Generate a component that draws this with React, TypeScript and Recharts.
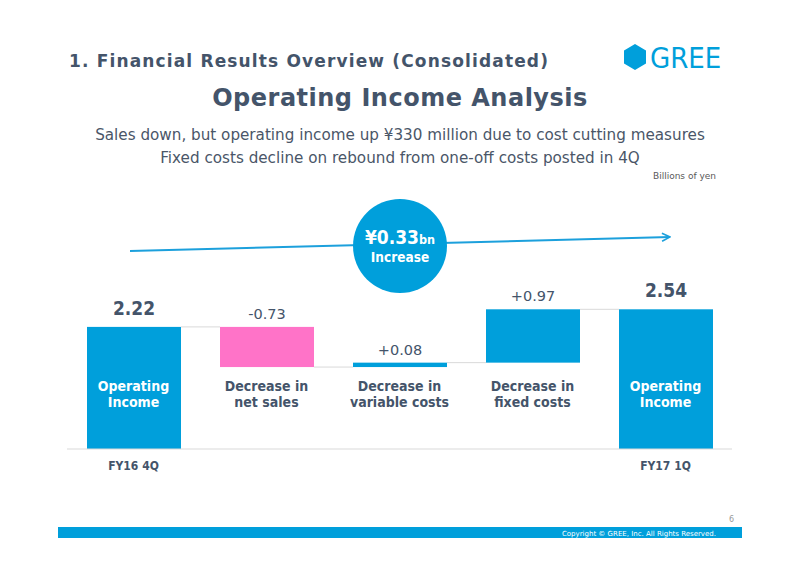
import React from "react";
import { BarChart, Bar, XAxis, YAxis, Cell, LabelList } from "recharts";

const categoryLines = [
  ["Operating", "Income"],
  ["Decrease in", "net sales"],
  ["Decrease in", "variable costs"],
  ["Decrease in", "fixed costs"],
  ["Operating", "Income"],
];
const periods = ["FY16 4Q", "", "", "", "FY17 1Q"];
const changes = [2.22, -0.73, 0.08, 0.97, 2.54];
const kinds = ["total", "delta", "delta", "delta", "total"];
const valueLabels = ["2.22", "-0.73", "+0.08", "+0.97", "2.54"];

const BLUE = "#009fdb";
const PINK = "#ff73c8";
const TEXT = "#44546a";
const FONT = "'DejaVu Sans', Verdana, sans-serif";
const FONT_C = "'DejaVu Sans Condensed', 'DejaVu Sans', sans-serif";

const W = 800;
const H = 565;
const AXIS_H = 30;
const M = { top: 284, right: 68, bottom: 116 - AXIS_H, left: 67 };
const BAR = 94;
const GAP = (W - M.left - M.right) / categoryLines.length - BAR;

let running = 0;
const data = changes.map((v, i) => {
  let base = 0;
  let size = v;
  if (kinds[i] === "total") {
    running = v;
  } else {
    base = Math.min(running, running + v);
    size = Math.abs(v);
    running += v;
  }
  return {
    name: String(i),
    base,
    size,
    up: v >= 0,
    total: kinds[i] === "total",
    label: valueLabels[i],
    period: periods[i],
    last: i === changes.length - 1,
  };
});

const WaterfallBar = (props: any) => {
  const { x, y, width, height, payload, fill } = props;
  const level = payload.up ? y : y + height;
  return (
    <g>
      <rect x={x} y={y} width={width} height={height} fill={fill} />
      {!payload.last && (
        <line
          x1={x + width}
          x2={x + width + GAP}
          y1={level}
          y2={level}
          stroke="#d9d9d9"
          strokeWidth={1}
        />
      )}
    </g>
  );
};

const renderLabel = (props: any) => {
  const { x, y, width, index } = props;
  const d = data[index];
  return (
    <text
      x={x + width / 2}
      y={d.total ? y - 12 : y - 8}
      textAnchor="middle"
      fill={TEXT}
      fontFamily={d.total ? FONT_C : FONT}
      fontWeight={d.total ? "bold" : "normal"}
      fontSize={d.total ? 19 : 14.5}
    >
      {d.label}
    </text>
  );
};

const CategoryTick = (props: any) => {
  const { x, payload } = props;
  const i = Number(payload.value);
  const d = data[i];
  const color = d.total ? "#ffffff" : TEXT;
  return (
    <g>
      {categoryLines[i].map((t, k) => (
        <text
          key={k}
          x={x}
          y={391 + k * 16}
          textAnchor="middle"
          fill={color}
          fontFamily={FONT_C}
          fontWeight="bold"
          fontSize={14}
        >
          {t}
        </text>
      ))}
      {d.period && (
        <text
          x={x}
          y={470}
          textAnchor="middle"
          fill={TEXT}
          fontFamily={FONT_C}
          fontWeight="bold"
          fontSize={12}
        >
          {d.period}
        </text>
      )}
    </g>
  );
};

export default function App() {
  return (
    <div
      style={{
        position: "absolute",
        left: 0,
        top: 0,
        width: W,
        height: H,
        background: "#fff",
        fontFamily: FONT,
        overflow: "hidden",
      }}
    >
      <div
        style={{
          position: "absolute",
          left: 69,
          top: 51,
          fontSize: 17,
          fontWeight: "bold",
          color: TEXT,
          letterSpacing: 1.15,
          whiteSpace: "nowrap",
        }}
      >
        1. Financial Results Overview (Consolidated)
      </div>
      <div
        style={{
          position: "absolute",
          left: 0,
          width: W,
          top: 84,
          textAlign: "center",
          fontSize: 24,
          fontWeight: "bold",
          color: TEXT,
          letterSpacing: 0.5,
        }}
      >
        Operating Income Analysis
      </div>
      <div
        style={{
          position: "absolute",
          left: 0,
          width: W,
          top: 124,
          textAlign: "center",
          fontSize: 15.2,
          lineHeight: "23px",
          color: "#4a5668",
        }}
      >
        Sales down, but operating income up ¥330 million due to cost cutting measures
        <br />
        Fixed costs decline on rebound from one-off costs posted in 4Q
      </div>
      <div
        style={{
          position: "absolute",
          right: 84,
          top: 171,
          fontSize: 9,
          color: "#595959",
        }}
      >
        Billions of yen
      </div>

      <svg
        width={W}
        height={H}
        style={{ position: "absolute", left: 0, top: 0 }}
      >
        <polygon
          points="635,44 646,50.5 646,63.5 635,70 624,63.5 624,50.5"
          fill={BLUE}
        />
        <text
          x={650}
          y={68}
          fill={BLUE}
          fontFamily="'DejaVu Sans Condensed', 'Liberation Sans Narrow', sans-serif"
          fontSize={29}
        >
          GREE
        </text>
        <line x1={58} x2={742} y1={532.5} y2={532.5} stroke={BLUE} strokeWidth={11} />
        <text
          x={716}
          y={536}
          textAnchor="end"
          fill="#ffffff"
          fontFamily={FONT}
          fontSize={7}
        >
          Copyright © GREE, Inc. All Rights Reserved.
        </text>
        <text x={734} y={522} textAnchor="end" fill="#999999" fontFamily={FONT} fontSize={8}>
          6
        </text>
      </svg>

      <div style={{ position: "absolute", left: 0, top: 0 }}>
        <BarChart width={W} height={H} data={data} margin={M} barSize={BAR}>
          <XAxis
            dataKey="name"
            height={AXIS_H}
            axisLine={{ stroke: "#d9d9d9" }}
            tickLine={false}
            tick={<CategoryTick />}
            interval={0}
          />
          <YAxis hide domain={[0, 3]} />
          <Bar dataKey="base" stackId="w" fill="transparent" isAnimationActive={false} />
          <Bar
            dataKey="size"
            stackId="w"
            shape={<WaterfallBar />}
            isAnimationActive={false}
          >
            {data.map((d, i) => (
              <Cell key={i} fill={d.up ? BLUE : PINK} />
            ))}
            <LabelList dataKey="label" content={renderLabel} />
          </Bar>
        </BarChart>
      </div>

      <svg
        width={W}
        height={H}
        style={{ position: "absolute", left: 0, top: 0, pointerEvents: "none" }}
      >
        <defs>
          <marker
            id="chev"
            viewBox="0 0 10 10"
            refX="9"
            refY="5"
            markerWidth="5"
            markerHeight="5"
            orient="auto"
          >
            <path d="M1,1 L9,5 L1,9" fill="none" stroke="#1ca0dc" strokeWidth={1.6} />
          </marker>
        </defs>
        <line
          x1={130}
          y1={251}
          x2={670}
          y2={237}
          stroke="#1ca0dc"
          strokeWidth={2}
          markerEnd="url(#chev)"
        />
        <circle cx={400} cy={246} r={47} fill={BLUE} />
        <text
          x={400}
          y={244}
          textAnchor="middle"
          fill="#fff"
          fontFamily={FONT_C}
          fontWeight="bold"
        >
          <tspan fontSize={19}>¥0.33</tspan>
          <tspan fontSize={12.5}>bn</tspan>
        </text>
        <text
          x={400}
          y={262}
          textAnchor="middle"
          fill="#fff"
          fontFamily={FONT_C}
          fontWeight="bold"
          fontSize={13.5}
        >
          Increase
        </text>
      </svg>
    </div>
  );
}
